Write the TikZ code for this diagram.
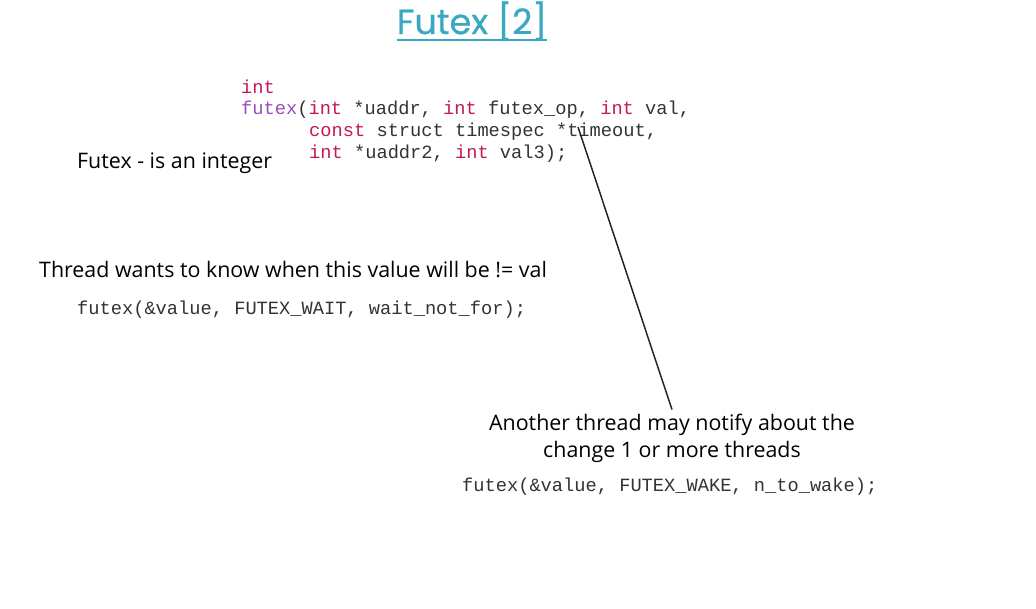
\documentclass[tikz,border=0pt]{standalone}
\usepackage{fontspec}
\setmainfont{Open Sans}
\setmonofont{Liberation Mono}
\newfontfamily\titlefont[FakeBold=0.6]{Poppins}
\usetikzlibrary{positioning}
\definecolor{titleblue}{HTML}{3AA8C3}
\definecolor{kwred}{HTML}{C2185B}
\definecolor{fnpurple}{HTML}{9C4DB8}
\definecolor{codegray}{HTML}{333333}
\newcommand{\kw}[1]{\textcolor{kwred}{#1}}
\newcommand{\fn}[1]{\textcolor{fnpurple}{#1}}
\tikzset{
    note/.style={font=\fontsize{21.4}{27}\selectfont,text=black,inner sep=0pt,align=center},
    code/.style={font=\fontsize{18.7}{22}\ttfamily,text=codegray,inner sep=0pt,anchor=west},
}
\begin{document}
\begin{tikzpicture}[x=1pt,y=-1pt]
    \useasboundingbox (0,0) rectangle (1036,608);

    \node[font=\titlefont\fontsize{35}{40}\selectfont,text=titleblue,inner sep=0pt] (title) at (472,21) {Futex [2]};
    \draw[titleblue,line width=2pt] ([yshift=-6pt]title.base west) -- ([yshift=-6pt]title.base east);

    \node[code] (sig1) at (241,87) {\kw{int}};
    \node[code] (sig2) at (241,110) {\fn{futex}(\kw{int} *uaddr, \kw{int} futex\_op, \kw{int} val,};
    \node[code] (sig3) at (309,132) {\kw{const} struct timespec *timeout,};
    \node[code] (sig4) at (309,154) {\kw{int} *uaddr2, \kw{int} val3);};

    \node[note,anchor=west] (integer) at (77,163) {Futex - is an integer};

    \node[note,anchor=west] (wants) at (39,270) {Thread wants to know when this value will be != val};
    \node[code] (wait) at (77,310) {futex(\&value, FUTEX\_WAIT, wait\_not\_for);};

    \node[note] (notify) at (672,438) {Another thread may notify about the\\change 1 or more threads};
    \node[code] (wake) at (462,487) {futex(\&value, FUTEX\_WAKE, n\_to\_wake);};

    \coordinate (timeout) at (578,127);
    \draw[line width=1.5pt,black!85] (timeout) -- ([yshift=4pt]notify.north);
\end{tikzpicture}
\end{document}
